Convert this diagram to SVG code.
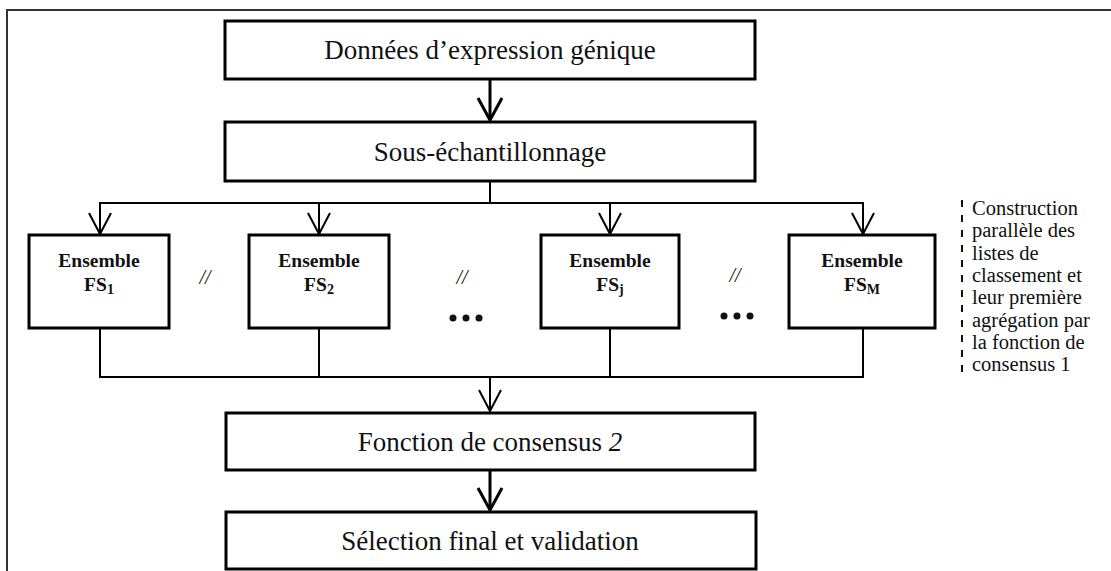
<svg xmlns="http://www.w3.org/2000/svg" width="1111" height="571" viewBox="0 0 1111 571">
  <style>
    text { font-family: "Liberation Serif", Tinos, "Times New Roman", "DejaVu Serif", serif; fill: #111; }
    .box { fill: #fff; stroke: #000; stroke-width: 3; }
    .main { font-size: 27px; text-anchor: middle; }
    .fs { font-size: 19.5px; font-weight: bold; text-anchor: middle; }
    .sub { font-size: 14px; }
    .note { font-size: 20.5px; }
    .par { font-size: 20px; font-style: italic; text-anchor: middle; }
    .wire { fill: none; stroke: #000; stroke-width: 2; }
    .thick { fill: none; stroke: #000; stroke-width: 3; }
    .head { fill: none; stroke: #000; stroke-width: 2; stroke-linejoin: miter; }
    .headthick { fill: none; stroke: #000; stroke-width: 3; stroke-linejoin: miter; }
  </style>

  <rect x="0" y="0" width="1111" height="571" fill="#fff"/>

  <!-- page frame -->
  <path d="M7,571 V10 H1111" fill="none" stroke="#333" stroke-width="2"/>

  <!-- connectors -->
  <g id="connectors">
    <!-- Données -> Sous-échantillonnage -->
    <line class="thick" x1="490" y1="79" x2="490" y2="120"/>
    <path class="headthick" d="M478,98 L490,120 L502,98"/>
    <!-- fan-out to the ensembles -->
    <path class="wire" d="M490,181 V203"/>
    <path class="wire" d="M100,234 V203 H863 V234"/>
    <line class="wire" x1="319" y1="203" x2="319" y2="234"/>
    <line class="wire" x1="610" y1="203" x2="610" y2="234"/>
    <path class="head" d="M89,213 L100,234 L111,213"/>
    <path class="head" d="M308,213 L319,234 L330,213"/>
    <path class="head" d="M599,213 L610,234 L621,213"/>
    <path class="head" d="M852,213 L863,234 L874,213"/>
    <!-- fan-in from the ensembles -->
    <path class="wire" d="M100,328 V377 H863 V328"/>
    <line class="wire" x1="319" y1="328" x2="319" y2="377"/>
    <line class="wire" x1="610" y1="328" x2="610" y2="377"/>
    <line class="wire" x1="490" y1="377" x2="490" y2="411"/>
    <path class="head" d="M479,390 L490,411 L501,390"/>
    <!-- Fonction de consensus 2 -> Sélection -->
    <line class="thick" x1="490" y1="470" x2="490" y2="510"/>
    <path class="headthick" d="M478,488 L490,510 L502,488"/>
  </g>

  <g id="donnees">
    <rect class="box" x="225" y="21" width="530" height="58"/>
    <text class="main" x="490" y="59">Données d’expression génique</text>
  </g>

  <g id="sous-echantillonnage">
    <rect class="box" x="225" y="122" width="530" height="59"/>
    <text class="main" x="490" y="161">Sous-échantillonnage</text>
  </g>

  <g id="fs1">
    <rect class="box" x="29" y="235" width="140" height="93"/>
    <text class="fs" x="99" y="267">Ensemble</text>
    <text class="fs" x="99" y="291">FS<tspan class="sub" dy="3">1</tspan></text>
  </g>

  <g id="fs2">
    <rect class="box" x="249" y="235" width="140" height="93"/>
    <text class="fs" x="319" y="267">Ensemble</text>
    <text class="fs" x="319" y="291">FS<tspan class="sub" dy="3">2</tspan></text>
  </g>

  <g id="fsj">
    <rect class="box" x="541" y="235" width="138" height="93"/>
    <text class="fs" x="610" y="267">Ensemble</text>
    <text class="fs" x="610" y="291">FS<tspan class="sub" dy="3">j</tspan></text>
  </g>

  <g id="fsm">
    <rect class="box" x="789" y="235" width="146" height="93"/>
    <text class="fs" x="862" y="267">Ensemble</text>
    <text class="fs" x="862" y="291">FS<tspan class="sub" dy="3">M</tspan></text>
  </g>

  <!-- parallel marks and ellipses between the ensembles -->
  <g id="parallel-marks">
    <text class="par" x="205" y="284">//</text>
    <text class="par" x="462" y="284">//</text>
    <text class="par" x="735" y="282">//</text>
    <g fill="#111">
      <circle cx="453" cy="318" r="3.5"/>
      <circle cx="466" cy="318" r="3.5"/>
      <circle cx="479" cy="318" r="3.5"/>
      <circle cx="724" cy="316" r="3.5"/>
      <circle cx="737" cy="316" r="3.5"/>
      <circle cx="750" cy="316" r="3.5"/>
    </g>
  </g>

  <g id="consensus2">
    <rect class="box" x="226" y="413" width="529" height="57"/>
    <text class="main" x="490" y="451">Fonction de consensus <tspan font-style="italic">2</tspan></text>
  </g>

  <g id="selection">
    <rect class="box" x="226" y="512" width="530" height="57"/>
    <text class="main" x="490" y="550">Sélection final et validation</text>
  </g>

  <!-- side note with its dashed bracket -->
  <g id="note">
    <line x1="962" y1="200" x2="962" y2="374" stroke="#111" stroke-width="2" stroke-dasharray="7,8"/>
    <text class="note">
      <tspan x="972" y="215">Construction</tspan>
      <tspan x="972" y="237">parallèle des</tspan>
      <tspan x="972" y="260">listes de</tspan>
      <tspan x="972" y="282">classement et</tspan>
      <tspan x="972" y="304">leur première</tspan>
      <tspan x="972" y="327">agrégation par</tspan>
      <tspan x="972" y="349">la fonction de</tspan>
      <tspan x="972" y="371">consensus 1</tspan>
    </text>
  </g>
</svg>
